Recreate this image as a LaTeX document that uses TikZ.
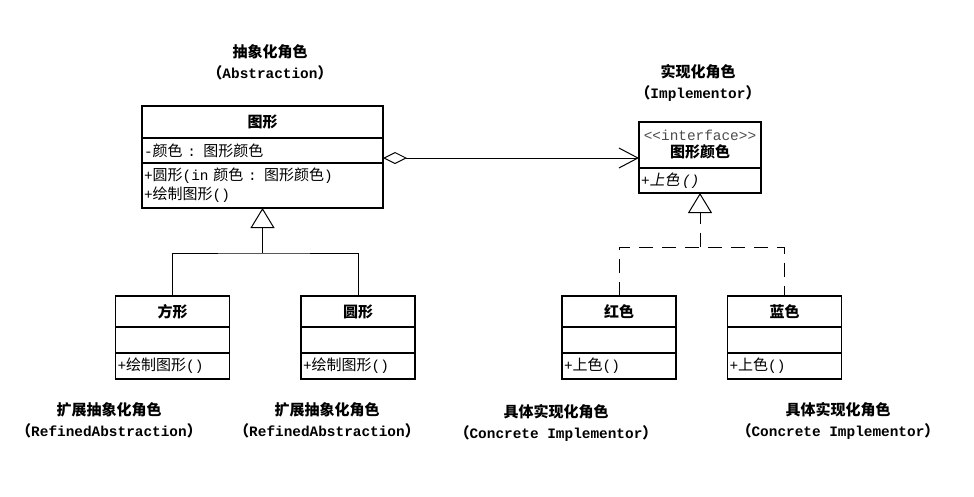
\documentclass[tikz,border=0pt]{standalone}
\usepackage{fontspec}
\setmainfont{Liberation Mono}[Scale=0.96]
\newfontfamily\cjk{Noto Sans CJK SC}
\newfontfamily\cjkit{Noto Sans CJK SC}[FakeSlant=0.2]
\usetikzlibrary{arrows.meta, positioning}
\newcommand{\zh}[1]{{\cjk #1}}
\newcommand{\zhit}[1]{{\cjkit #1}}
\tikzset{
  wire/.style={line width=1pt},
  dashline/.style={wire, dash pattern=on 14pt off 9pt},
  umlpart/.style={% one compartment of a class box
    rectangle, draw, line width=1.6pt, outer sep=0pt,
    inner xsep=2pt, inner ysep=0pt, anchor=north, align=left,
    font=\fontsize{15}{19}\selectfont},
  umltitle/.style={umlpart, align=center, font=\fontsize{15}{19}\selectfont\bfseries},
  bigw/.style={text width=237pt},
  smallw/.style={text width=110pt},
  ifw/.style={text width=118pt},
  rolelbl/.style={align=center, inner sep=0pt, font=\fontsize{15}{21}\selectfont\bfseries},
  aggr/.style={wire, {Diamond[open, length=24pt, width=12pt]}-{Straight Barb[length=19pt, width=20pt]}},
  genl/.style={wire, -{Triangle[open, length=20pt, width=24pt]}},
}

\begin{document}
\begin{tikzpicture}[x=1pt, y=-1pt]
  \useasboundingbox (0,0) rectangle (974,496);

  % ----- abstraction class ----------------------------------------------------
  \node[umltitle, bigw, minimum height=32pt] (shapeT) at (262.5,106) {\zh{图形}};
  \node[umlpart,  bigw, minimum height=25pt, below=0pt of shapeT] (shapeA) {-\zh{颜色} : \zh{图形颜色}};
  \node[umlpart,  bigw, minimum height=45pt, below=0pt of shapeA] (shapeO)
    {+\zh{圆形}(in \zh{颜色} : \zh{图形颜色})\\+\zh{绘制图形}()};

  % ----- refined abstractions -------------------------------------------------
  \node[umltitle, smallw, minimum height=31pt] (fangT) at (172.5,296) {\zh{方形}};
  \node[umlpart,  smallw, minimum height=26pt, below=0pt of fangT] (fangA) {};
  \node[umlpart,  smallw, minimum height=26pt, below=0pt of fangA] (fangO) {+\zh{绘制图形}()};

  \node[umltitle, smallw, minimum height=31pt] (yuanT) at (358,296) {\zh{圆形}};
  \node[umlpart,  smallw, minimum height=26pt, below=0pt of yuanT] (yuanA) {};
  \node[umlpart,  smallw, minimum height=26pt, below=0pt of yuanA] (yuanO) {+\zh{绘制图形}()};

  % ----- implementor interface ------------------------------------------------
  \node[umltitle, ifw, minimum height=46pt] (ifaceT) at (700,122)
    {{\mdseries\color{black!70}<{}<interface>{}>}\\[-2pt]\zh{图形颜色}};
  \node[umlpart,  ifw, minimum height=25pt, below=0pt of ifaceT] (ifaceO)
    {{\itshape +\/}\zhit{上色}\,{\itshape ()}};

  % ----- concrete implementors ------------------------------------------------
  \node[umltitle, smallw, minimum height=31pt] (hongT) at (619,296) {\zh{红色}};
  \node[umlpart,  smallw, minimum height=26pt, below=0pt of hongT] (hongA) {};
  \node[umlpart,  smallw, minimum height=26pt, below=0pt of hongA] (hongO) {+\zh{上色}()};

  \node[umltitle, smallw, minimum height=31pt] (lanT) at (784.5,296) {\zh{蓝色}};
  \node[umlpart,  smallw, minimum height=26pt, below=0pt of lanT] (lanA) {};
  \node[umlpart,  smallw, minimum height=26pt, below=0pt of lanA] (lanO) {+\zh{上色}()};

  % ----- role captions --------------------------------------------------------
  \node[rolelbl] (absLbl)   at (270,62)  {\zh{抽象化角色}\\\zh{（}Abstraction\zh{）}};
  \node[rolelbl] (implLbl)  at (698,83)  {\zh{实现化角色}\\\zh{（}Implementor\zh{）}};
  \node[rolelbl] (refLblA)  at (109,420) {\zh{扩展抽象化角色}\\\zh{（}RefinedAbstraction\zh{）}};
  \node[rolelbl] (refLblB)  at (327,420) {\zh{扩展抽象化角色}\\\zh{（}RefinedAbstraction\zh{）}};
  \node[rolelbl] (concLblA) at (556,423) {\zh{具体实现化角色}\\\zh{（}Concrete Implementor\zh{）}};
  \node[rolelbl] (concLblB) at (838,421) {\zh{具体实现化角色}\\\zh{（}Concrete Implementor\zh{）}};

  % ----- bridge (aggregation) -------------------------------------------------
  \draw[aggr] ([yshift=-7.5pt]shapeA.east) coordinate (aggS) -- (aggS -| ifaceT.west);

  % ----- generalization -------------------------------------------------------
  \coordinate (absJoin) at (262.5,253);
  \draw[wire] (fangT.north) |- (absJoin) -| (yuanT.north);
  \draw[genl] (absJoin) -- (shapeO.south);

  % ----- realization ----------------------------------------------------------
  \coordinate (implJoin) at (700,247);
  \draw[dashline] (hongT.north) |- (implJoin) -| (lanT.north);
  \draw[dashline, genl] (implJoin) -- (ifaceO.south);

\end{tikzpicture}
\end{document}
